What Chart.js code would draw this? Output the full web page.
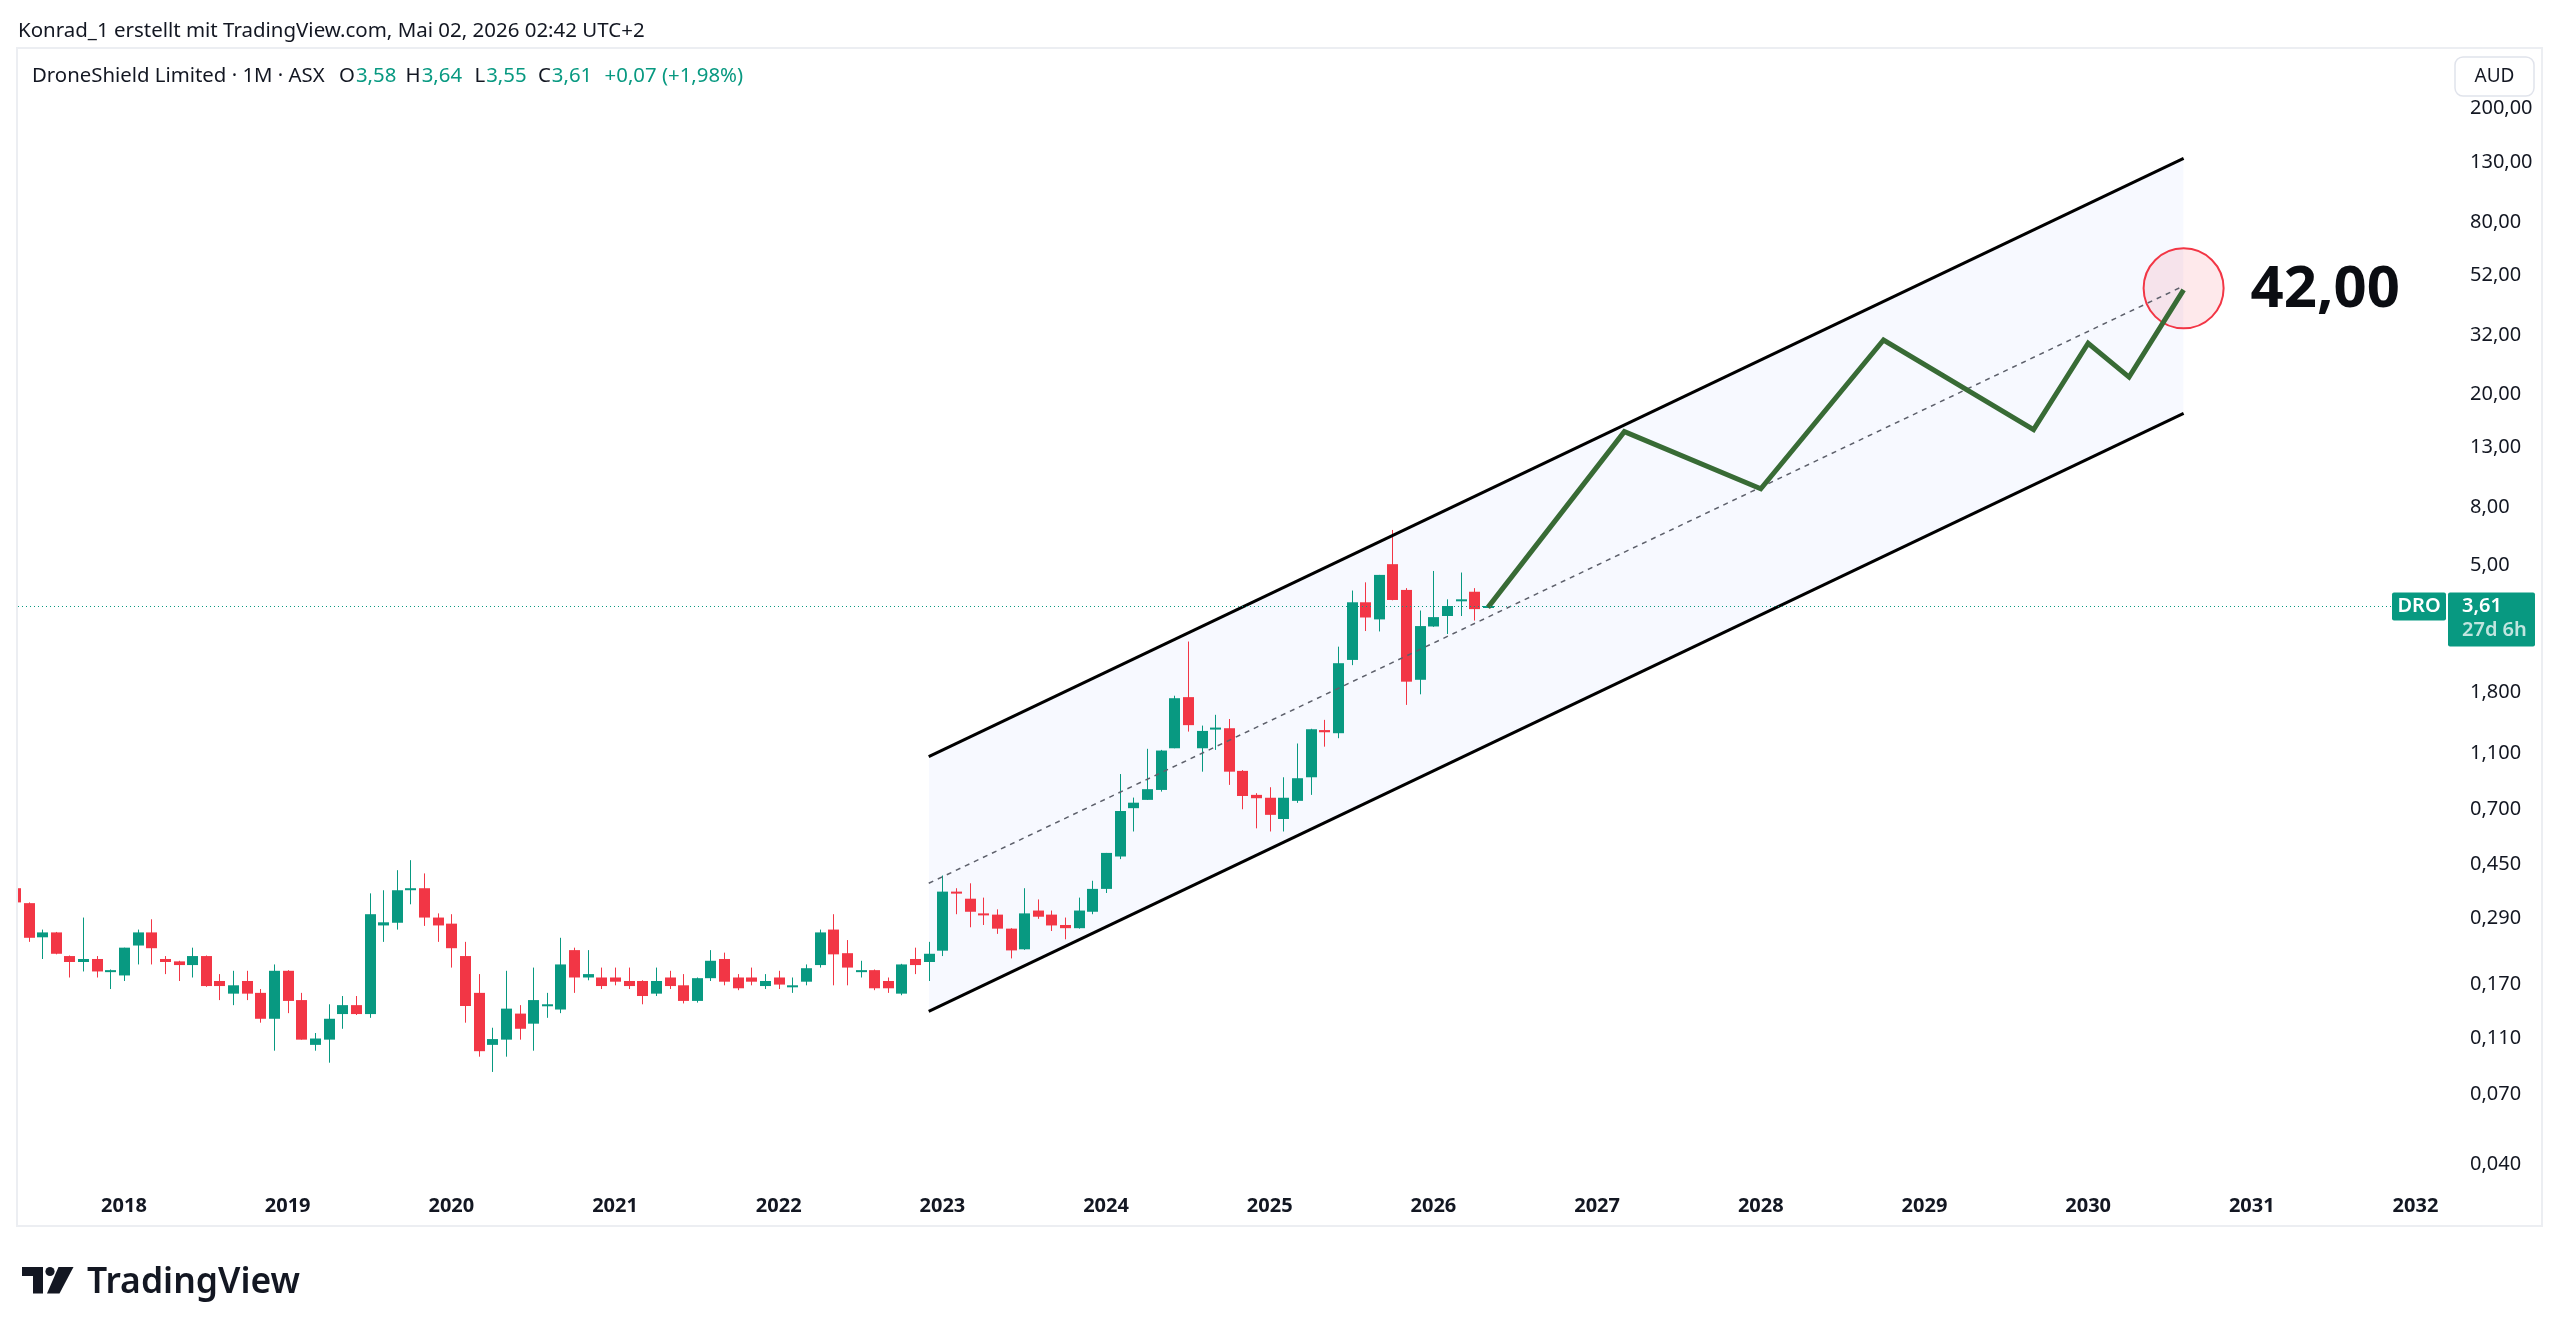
<!DOCTYPE html>
<html>
<head>
<meta charset="utf-8">
<script src="https://cdn.jsdelivr.net/npm/chart.js@4.4.1/dist/chart.umd.min.js"></script>
<style>
  html, body { margin: 0; padding: 0; background: #fff; }
  #wrap { position: relative; width: 2560px; height: 1334px; }
</style>
</head>
<body>
<div id="wrap"><canvas id="chart" width="2560" height="1334"></canvas></div>
<script>
// monthly candles, first one is May 2017
const firstMonth = '2017-05';
const opens = [
  0.37, 0.328, 0.249, 0.259, 0.214, 0.204, 0.209, 0.190,
  0.183, 0.233, 0.259, 0.209, 0.205, 0.199, 0.214, 0.175, 0.158, 0.175, 0.159, 0.129,
  0.190, 0.150, 0.1045, 0.109, 0.134, 0.144, 0.134, 0.274, 0.280, 0.366, 0.370, 0.292,
  0.278, 0.214, 0.159, 0.1045, 0.109, 0.1345, 0.124, 0.143, 0.139, 0.2245, 0.180, 0.180,
  0.180, 0.175, 0.175, 0.158, 0.180, 0.169, 0.149, 0.179, 0.209, 0.180, 0.180, 0.168,
  0.180, 0.168, 0.174, 0.199, 0.265, 0.219, 0.190, 0.191, 0.175, 0.158, 0.209, 0.204,
  0.2235, 0.360, 0.340, 0.302, 0.299, 0.267, 0.226, 0.309, 0.299, 0.275, 0.268, 0.306,
  0.368, 0.478, 0.706, 0.755, 0.818, 1.145, 1.73, 1.145, 1.34, 1.346, 0.954, 0.786,
  0.768, 0.647, 0.749, 0.906, 1.326, 1.293, 2.336, 3.72, 3.24, 5.06, 4.11, 1.99,
  3.06, 3.33, 3.78, 4.05, 3.58
];
const highs = [
  0.38, 0.330, 0.265, 0.260, 0.215, 0.292, 0.214, 0.192,
  0.229, 0.265, 0.288, 0.214, 0.206, 0.229, 0.215, 0.185, 0.190, 0.190, 0.164, 0.200,
  0.191, 0.159, 0.115, 0.145, 0.155, 0.155, 0.355, 0.364, 0.428, 0.464, 0.417, 0.302,
  0.300, 0.240, 0.185, 0.120, 0.190, 0.144, 0.195, 0.159, 0.248, 0.229, 0.2245, 0.195,
  0.195, 0.195, 0.176, 0.195, 0.190, 0.185, 0.180, 0.2245, 0.220, 0.185, 0.195, 0.185,
  0.190, 0.180, 0.200, 0.265, 0.300, 0.2435, 0.206, 0.192, 0.180, 0.201, 0.229, 0.240,
  0.41, 0.370, 0.385, 0.343, 0.312, 0.268, 0.370, 0.338, 0.309, 0.292, 0.343, 0.393,
  0.492, 0.93, 0.769, 1.14, 1.13, 1.75, 2.71, 1.375, 1.50, 1.45, 0.96, 0.797,
  0.836, 0.906, 1.19, 1.34, 1.44, 2.60, 4.09, 4.37, 4.64, 6.67, 4.17, 3.48,
  4.79, 3.81, 4.73, 4.17, 3.64
];
const lows = [
  0.32, 0.240, 0.209, 0.217, 0.180, 0.189, 0.180, 0.164,
  0.175, 0.200, 0.200, 0.185, 0.175, 0.180, 0.167, 0.150, 0.144, 0.150, 0.125, 0.0997,
  0.135, 0.109, 0.0997, 0.0905, 0.119, 0.133, 0.130, 0.240, 0.265, 0.325, 0.273, 0.240,
  0.195, 0.125, 0.095, 0.084, 0.095, 0.109, 0.0997, 0.130, 0.135, 0.159, 0.176, 0.164,
  0.169, 0.164, 0.145, 0.155, 0.164, 0.146, 0.147, 0.175, 0.169, 0.1625, 0.169, 0.164,
  0.164, 0.159, 0.169, 0.195, 0.169, 0.169, 0.180, 0.1625, 0.159, 0.156, 0.185, 0.175,
  0.214, 0.300, 0.270, 0.275, 0.256, 0.210, 0.225, 0.289, 0.262, 0.245, 0.267, 0.300,
  0.356, 0.468, 0.585, 0.755, 0.807, 1.145, 1.31, 0.948, 1.13, 0.852, 0.70, 0.60,
  0.585, 0.585, 0.737, 0.786, 1.16, 1.242, 2.24, 2.95, 2.94, 3.78, 1.625, 1.77,
  3.05, 2.88, 3.33, 3.21, 3.55
];
const closes = [
  0.33, 0.248, 0.259, 0.218, 0.204, 0.209, 0.189, 0.191,
  0.229, 0.259, 0.228, 0.204, 0.199, 0.214, 0.168, 0.168, 0.169, 0.158, 0.129, 0.190,
  0.149, 0.109, 0.110, 0.129, 0.144, 0.134, 0.300, 0.281, 0.364, 0.370, 0.292, 0.274,
  0.228, 0.143, 0.0993, 0.1095, 0.140, 0.119, 0.150, 0.145, 0.200, 0.180, 0.185, 0.168,
  0.174, 0.168, 0.155, 0.175, 0.168, 0.149, 0.179, 0.206, 0.174, 0.165, 0.174, 0.175,
  0.170, 0.169, 0.194, 0.259, 0.217, 0.195, 0.191, 0.165, 0.165, 0.200, 0.199, 0.218,
  0.360, 0.355, 0.306, 0.298, 0.267, 0.224, 0.302, 0.294, 0.274, 0.268, 0.309, 0.368,
  0.492, 0.690, 0.738, 0.823, 1.124, 1.715, 1.38, 1.317, 1.353, 0.948, 0.779, 0.765,
  0.669, 0.768, 0.899, 1.335, 1.303, 2.275, 3.72, 3.29, 4.64, 3.79, 1.96, 3.07,
  3.30, 3.61, 3.81, 3.52, 3.61
];

const yearTicks = [2018, 2019, 2020, 2021, 2022, 2023, 2024, 2025, 2026, 2027, 2028, 2029, 2030, 2031, 2032];
const priceTicks = [200, 130, 80, 52, 32, 20, 13, 8, 5, 1.8, 1.1, 0.7, 0.45, 0.29, 0.17, 0.11, 0.07, 0.04];

// drawings
const channelMonths = ['2022-12', '2030-08'];
const channelUpper = [1.07, 133.9];
const channelLower = [0.137, 17.1];
const channelMid = [0.385, 47.8];
const pathMonths = ['2026-05', '2027-03', '2028-01', '2028-10', '2029-09', '2030-01', '2030-04', '2030-08'];
const pathValues = [3.57, 14.75, 9.3, 30.9, 15.0, 30.1, 22.9, 46.3];
const targetMonth = '2030-08';
const targetValue = 46.9;
const targetLabel = '42,00';

const lastPrice = 3.61;
const headerLine = 'Konrad_1 erstellt mit TradingView.com, Mai 02, 2026 02:42 UTC+2';
const symbolText = 'DroneShield Limited · 1M · ASX';
const ohlcLabels = ['O', 'H', 'L', 'C'];
const ohlcValues = ['3,58', '3,64', '3,55', '3,61'];
const changeText = '+0,07 (+1,98%)';

const GREEN = '#089981';
const RED = '#f23645';
const FONT = "'Noto Sans', sans-serif";

function monthIndex(s) {
  const [y, m] = s.split('-').map(Number);
  return (y - 2018) * 12 + (m - 1);
}
function fmtPrice(v) {
  return v.toFixed(v >= 2 ? 2 : 3).replace('.', ',');
}
function pts(months, values) {
  return months.map((m, i) => ({ x: monthIndex(m), y: values[i] }));
}

Chart.defaults.font.family = FONT;
Chart.defaults.color = '#131722';

const first = monthIndex(firstMonth);

const tvPlugin = {
  id: 'tv',
  beforeDatasetsDraw(chart) {
    const { ctx, chartArea: a, scales: { x, y } } = chart;
    ctx.save();
    ctx.beginPath();
    ctx.rect(a.left, a.top, a.right - a.left, a.bottom - a.top);
    ctx.clip();
    for (let i = 0; i < opens.length; i++) {
      const px = Math.round(x.getPixelForValue(first + i));
      const yo = y.getPixelForValue(opens[i]);
      const yc = y.getPixelForValue(closes[i]);
      const yh = y.getPixelForValue(highs[i]);
      const yl = y.getPixelForValue(lows[i]);
      ctx.fillStyle = closes[i] >= opens[i] ? GREEN : RED;
      ctx.fillRect(px, yh, 1, yl - yh);
      const top = Math.min(yo, yc), bot = Math.max(yo, yc);
      ctx.fillRect(px - 5, top, 11, Math.max(2, bot - top));
    }
    ctx.restore();
  },
  afterDatasetsDraw(chart) {
    const { ctx, chartArea: a, scales: { x, y } } = chart;
    const py = Math.round(y.getPixelForValue(lastPrice)) + 0.5;

    // dotted last price line
    ctx.save();
    ctx.strokeStyle = GREEN;
    ctx.lineWidth = 1;
    ctx.setLineDash([1, 3]);
    ctx.beginPath();
    ctx.moveTo(a.left, py);
    ctx.lineTo(2392, py);
    ctx.stroke();
    ctx.restore();

    // target label
    ctx.save();
    ctx.fillStyle = '#0b0d12';
    ctx.font = 'bold 58px ' + FONT;
    ctx.textBaseline = 'middle';
    ctx.fillText(targetLabel, x.getPixelForValue(monthIndex(targetMonth)) + 67, y.getPixelForValue(targetValue) + 2);
    ctx.restore();

    // symbol + price labels on the axis
    ctx.save();
    ctx.fillStyle = GREEN;
    ctx.beginPath();
    ctx.roundRect(2392, py - 14, 54, 28, 2);
    ctx.fill();
    ctx.beginPath();
    ctx.roundRect(2448, py - 14, 87, 54, 2);
    ctx.fill();
    ctx.fillStyle = '#fff';
    ctx.textBaseline = 'middle';
    ctx.font = '600 20px ' + FONT;
    ctx.textAlign = 'center';
    ctx.fillText('DRO', 2419, py);
    ctx.textAlign = 'left';
    ctx.fillText(fmtPrice(lastPrice), 2462, py);
    ctx.fillStyle = 'rgba(255,255,255,0.75)';
    ctx.fillText('27d 6h', 2462, py + 24);
    ctx.restore();
  },
  afterDraw(chart) {
    const { ctx } = chart;
    ctx.save();
    // outer frame
    ctx.strokeStyle = '#eceef2';
    ctx.lineWidth = 2;
    ctx.strokeRect(17, 48, 2525, 1178);

    // currency button
    ctx.fillStyle = '#fff';
    ctx.strokeStyle = '#e0e3eb';
    ctx.lineWidth = 1.5;
    ctx.beginPath();
    ctx.roundRect(2455, 57, 79, 39, 8);
    ctx.fill();
    ctx.stroke();
    ctx.fillStyle = '#131722';
    ctx.font = '19px ' + FONT;
    ctx.textAlign = 'center';
    ctx.textBaseline = 'middle';
    ctx.fillText('AUD', 2494.5, 77);

    // header
    ctx.textAlign = 'left';
    ctx.textBaseline = 'alphabetic';
    ctx.fillStyle = '#131722';
    let fs = 20;
    ctx.font = fs + 'px ' + FONT;
    fs = fs * 627 / ctx.measureText(headerLine).width;
    ctx.font = fs.toFixed(2) + 'px ' + FONT;
    ctx.fillText(headerLine, 18, 37);

    fs = 20;
    ctx.font = fs + 'px ' + FONT;
    fs = fs * 293 / ctx.measureText(symbolText).width;
    ctx.font = fs.toFixed(2) + 'px ' + FONT;
    ctx.fillText(symbolText, 32, 82);
    const ohlcX = [339, 405.6, 474.5, 538];
    ohlcLabels.forEach((lab, i) => {
      ctx.fillStyle = '#131722';
      ctx.fillText(lab, ohlcX[i], 82);
      ctx.fillStyle = GREEN;
      ctx.fillText(ohlcValues[i], ohlcX[i] + ctx.measureText(lab).width + 1, 82);
    });
    ctx.fillStyle = GREEN;
    ctx.fillText(changeText, 604.6, 82);

    // logo
    ctx.fillStyle = '#131722';
    ctx.fillRect(22, 1267, 21, 9);
    ctx.fillRect(33, 1267, 10, 26.5);
    ctx.beginPath();
    ctx.arc(50, 1271.5, 4.6, 0, Math.PI * 2);
    ctx.fill();
    ctx.beginPath();
    ctx.moveTo(58.5, 1267);
    ctx.lineTo(73.5, 1267);
    ctx.lineTo(59.5, 1293.5);
    ctx.lineTo(47, 1293.5);
    ctx.closePath();
    ctx.fill();
    fs = 36;
    ctx.font = '600 ' + fs + 'px ' + FONT;
    fs = fs * 213 / ctx.measureText('TradingView').width;
    ctx.font = '600 ' + fs.toFixed(2) + 'px ' + FONT;
    ctx.fillText('TradingView', 87, 1293);
    ctx.restore();
  }
};

new Chart(document.getElementById('chart'), {
  type: 'line',
  data: {
    datasets: [
      {
        data: pts(channelMonths, channelUpper),
        borderColor: '#000', borderWidth: 3, pointRadius: 0,
        fill: '+1', backgroundColor: 'rgba(41,98,255,0.035)', order: 3
      },
      {
        data: pts(channelMonths, channelLower),
        borderColor: '#000', borderWidth: 3, pointRadius: 0, fill: false, order: 3
      },
      {
        data: pts(channelMonths, channelMid),
        borderColor: '#5d606b', borderWidth: 1.5, borderDash: [5, 5], pointRadius: 0, fill: false, order: 2
      },
      {
        data: [{ x: monthIndex(targetMonth), y: targetValue }],
        showLine: false, pointRadius: 40, pointBorderWidth: 2,
        pointBorderColor: RED, pointBackgroundColor: 'rgba(242,54,69,0.11)', order: 4
      },
      {
        data: pts(pathMonths, pathValues),
        borderColor: '#386b35', borderWidth: 5, borderJoinStyle: 'miter', pointRadius: 0, fill: false, order: 1
      }
    ]
  },
  options: {
    responsive: false,
    animation: false,
    events: [],
    layout: { autoPadding: false, padding: { left: 18, right: 18, top: 49, bottom: 108 } },
    plugins: {
      legend: { display: false },
      tooltip: { enabled: false },
      filler: { drawTime: 'beforeDatasetsDraw' }
    },
    scales: {
      x: {
        type: 'linear',
        min: -7.77,
        max: 170.53,
        grid: { display: false },
        border: { display: false },
        afterFit(s) { s.height = 41; s.paddingLeft = 0; s.paddingRight = 0; },
        afterBuildTicks(s) { s.ticks = yearTicks.map(yr => ({ value: (yr - 2018) * 12 })); },
        ticks: {
          autoSkip: false, maxRotation: 0, padding: 1,
          font: { size: 20, weight: 'bold' }, color: '#131722',
          callback: v => String(2018 + Math.round(v / 12))
        }
      },
      y: {
        type: 'logarithmic',
        position: 'right',
        min: 0.03372,
        max: 323.6,
        grid: { display: false },
        border: { display: false },
        afterFit(s) { s.width = 92; },
        afterBuildTicks(s) { s.ticks = priceTicks.map(v => ({ value: v })); },
        ticks: {
          autoSkip: false, padding: 12,
          font: { size: 20 }, color: '#131722',
          callback: v => fmtPrice(v)
        }
      }
    }
  },
  plugins: [tvPlugin]
});
</script>
</body>
</html>
